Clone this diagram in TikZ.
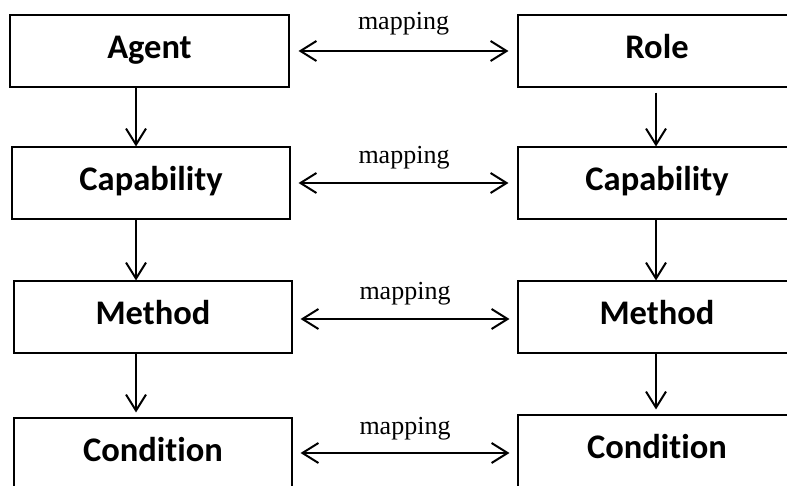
\documentclass[tikz,border=0pt]{standalone}
\usepackage{fontspec}
\setmainfont{Liberation Serif}
\newfontfamily\boxfont[Ligatures=NoCommon]{Carlito}
\usetikzlibrary{arrows.meta}
\begin{document}
\begin{tikzpicture}[x=1pt,y=-1pt,
  box/.style={draw=black, line width=1.1pt, minimum width=278pt, minimum height=72pt,
    inner sep=0pt, font=\boxfont\bfseries\fontsize{34.5}{38}\selectfont,
    text height=22pt, text depth=7pt},
  flow/.style={line width=2pt, -{Straight Barb[length=16pt,width=20pt,line width=2pt]}},
  maparrow/.style={line width=2pt, {Straight Barb[length=16pt,width=20pt,line width=2pt]}-{Straight Barb[length=16pt,width=20pt,line width=2pt]}},
  maplabel/.style={font=\fontsize{26}{30}\selectfont, anchor=base, inner sep=0pt}]
\useasboundingbox (0,0) rectangle (787,486);
\clip (0,0) rectangle (787,486);
% left column
\node[box, minimum width=279pt] (agent) at (149.5,51) {Agent};
\node[box] (capL) at (151,183) {Capability};
\node[box] (methL) at (153,317) {Method};
\node[box] (condL) at (153,454) {Condition};
% right column
\node[box] (role) at (657,51) {Role};
\node[box] (capR) at (657,183) {Capability};
\node[box] (methR) at (657,317) {Method};
\node[box] (condR) at (657,451) {Condition};
% vertical arrows
\draw[flow] ([xshift=-13.5pt]agent.south) -- ([xshift=-15pt]capL.north);
\draw[flow] ([xshift=-15pt]capL.south) -- ([xshift=-17pt]methL.north);
\draw[flow, shorten >=5pt] ([xshift=-17pt]methL.south) -- ([xshift=-17pt]condL.north);
\draw[flow, shorten <=5pt] ([xshift=-1pt]role.south) -- ([xshift=-1pt]capR.north);
\draw[flow] ([xshift=-1pt]capR.south) -- ([xshift=-1pt]methR.north);
\draw[flow, shorten >=5pt] ([xshift=-1pt]methR.south) -- ([xshift=-1pt]condR.north);
% mapping arrows
\draw[maparrow, shorten <=9pt, shorten >=9pt] (agent.east) -- (role.west)
  node[midway, maplabel, yshift=21.5pt] (m1) {mapping};
\draw[maparrow, shorten <=8pt, shorten >=9pt] (capL.east) -- (capR.west)
  node[midway, maplabel, yshift=19pt] (m2) {mapping};
\draw[maparrow, shorten <=8pt, shorten >=8pt] ([yshift=-2pt]methL.east) -- ([yshift=-2pt]methR.west)
  node[midway, maplabel, yshift=19pt] (m3) {mapping};
\draw[maparrow, shorten <=8pt, shorten >=8pt] ([yshift=1pt]condL.east) -- ([yshift=-2pt]condR.west)
  node[midway, maplabel, yshift=19pt] (m4) {mapping};
\end{tikzpicture}
\end{document}
